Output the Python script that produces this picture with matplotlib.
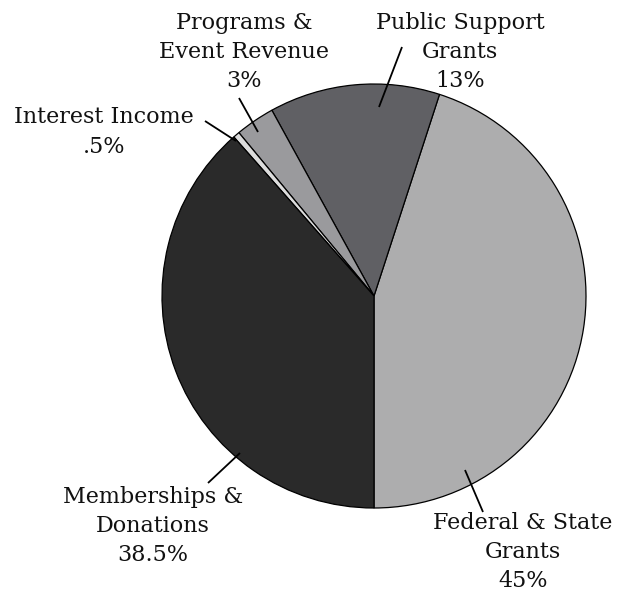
import matplotlib.pyplot as plt

# slice data, counterclockwise from the bottom
labels = ["Federal & State\nGrants", "Public Support\nGrants", "Programs &\nEvent Revenue",
          "Interest Income", "Memberships &\nDonations"]
pct_text = ["45%", "13%", "3%", ".5%", "38.5%"]
shares = [45, 13, 3, 0.5, 38.5]
colors = ["#adadae", "#606064", "#9a9a9d", "#dcdcdc", "#2a2a2a"]

# layout in pixels (y measured from top)
W, H = 617, 594
center = (374, 296)
radius = 212
text_pos = [(523, 552), (460, 52), (244, 52), (104, 132), (153, 526)]
leaders = [
    ((465, 470), (483, 512)),
    ((379, 107), (402, 47)),
    ((258, 132), (239, 98)),
    ((236, 141), (205, 121)),
    ((240, 453), (208, 483)),
]

fig = plt.figure(figsize=(W / 100, H / 100), dpi=100)
ax = fig.add_axes([0, 0, 1, 1])
ax.set_xlim(0, W)
ax.set_ylim(0, H)
ax.set_aspect("equal")
ax.axis("off")

ax.pie(shares, colors=colors, startangle=-90, counterclock=True,
       center=(center[0], H - center[1]), radius=radius,
       wedgeprops=dict(edgecolor="black", linewidth=0.9))

for (p0, p1) in leaders:
    ax.plot([p0[0], p1[0]], [H - p0[1], H - p1[1]], color="black", lw=1.3,
            solid_capstyle="butt")

for lab, pct, (x, y) in zip(labels, pct_text, text_pos):
    ax.text(x, H - y, lab + "\n" + pct, ha="center", va="center",
            fontsize=16, family="DejaVu Serif", linespacing=1.42, color="#111111")

ax.set_xlim(0, W)
ax.set_ylim(0, H)
fig.savefig("out.png", dpi=100)
